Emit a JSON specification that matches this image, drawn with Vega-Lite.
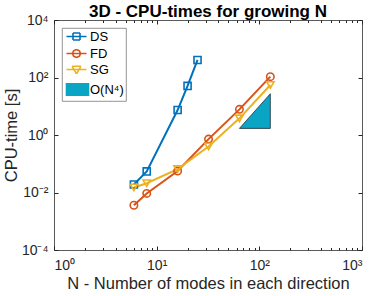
{
  "$schema": "https://vega.github.io/schema/vega-lite/v6.json",
  "autosize": "none",
  "width": 308,
  "height": 230,
  "padding": {"left": 54, "top": 20, "right": 12, "bottom": 46},
  "background": "white",
  "config": {
    "font": "Liberation Sans",
    "view": {"stroke": "#5a5a5a", "strokeWidth": 1},
    "axis": {"labelColor": "#262626", "titleColor": "#262626", "tickColor": "#262626", "labelFont": "Liberation Sans", "titleFont": "Liberation Sans", "grid": false, "domain": false},
    "legend": {"orient": "top-left", "offset": 8, "fillColor": "white", "strokeColor": "#7a7a7a", "strokeWidth": 0.8, "padding": 2, "labelFontSize": 13, "labelColor": "#000000", "symbolSize": 64, "labelOffset": 13, "rowPadding": 2, "symbolOpacity": 1, "symbolStrokeWidth": 1.6}
  },
  "title": {"text": "3D - CPU-times for growing N", "fontSize": 17, "fontWeight": "bold", "color": "#000000", "font": "Liberation Sans", "offset": -8},
  "datasets": {
    "series": [
      {"series": "DS", "N": 6, "t": 0.019},
      {"series": "DS", "N": 8, "t": 0.054},
      {"series": "DS", "N": 16, "t": 7.4},
      {"series": "DS", "N": 20, "t": 51},
      {"series": "DS", "N": 25, "t": 407},
      {"series": "FD", "N": 6, "t": 0.0036},
      {"series": "FD", "N": 8, "t": 0.0093},
      {"series": "FD", "N": 16, "t": 0.056},
      {"series": "FD", "N": 32, "t": 0.72},
      {"series": "FD", "N": 64, "t": 7.8},
      {"series": "FD", "N": 128, "t": 107},
      {"series": "SG", "N": 6, "t": 0.015},
      {"series": "SG", "N": 8, "t": 0.021},
      {"series": "SG", "N": 16, "t": 0.065},
      {"series": "SG", "N": 32, "t": 0.40},
      {"series": "SG", "N": 64, "t": 3.8},
      {"series": "SG", "N": 128, "t": 55}
    ],
    "tri": [
      {"series": "O(N⁴)", "N": 64, "t": 1.7, "base": 1.7},
      {"series": "O(N⁴)", "N": 128, "t": 27.2, "base": 1.7}
    ]
  },
  "layer": [
    {
      "data": {"name": "tri"},
      "mark": {"type": "area", "stroke": "#1c2c38", "strokeWidth": 0.8, "opacity": 1},
      "encoding": {
        "x": {"field": "N", "type": "quantitative", "scale": {"type": "log", "domain": [1, 1000], "nice": false},
          "axis": {"orient": "bottom", "values": [1, 10, 100, 1000], "labels": false, "ticks": true, "tickSize": -4, "title": null}},
        "y": {"field": "t", "type": "quantitative", "scale": {"type": "log", "domain": [0.0001, 10000], "nice": false},
          "axis": {"orient": "left", "values": [0.0001, 0.01, 1, 100, 10000], "labels": false, "ticks": true, "tickSize": -4, "title": null}},
        "y2": {"field": "base"},
        "color": {"field": "series", "type": "nominal",
          "scale": {"domain": ["DS", "FD", "SG", "O(N⁴)"], "range": ["#0072BD", "#D95319", "#EDB120", "#0AA5C5"]},
          "legend": {"title": null}}
      }
    },
    {
      "data": {"name": "series"},
      "mark": {"type": "line", "strokeWidth": 2},
      "encoding": {
        "x": {"field": "N", "type": "quantitative",
          "axis": {"orient": "bottom", "values": [1, 10, 100, 1000], "ticks": false, "labelFontSize": 14, "labelPadding": 8,
            "labelExpr": "datum.value===1 ? '10⁰' : datum.value===10 ? '10¹' : datum.value===100 ? '10²' : '10³'",
            "title": "N - Number of modes in each direction", "titleFontSize": 16.5, "titleFontWeight": "normal", "titlePadding": 3}},
        "y": {"field": "t", "type": "quantitative",
          "axis": {"orient": "left", "values": [0.0001, 0.01, 1, 100, 10000], "ticks": false, "labelFontSize": 14, "labelPadding": 6,
            "labelExpr": "datum.value<=0.0001001 ? '10⁻⁴' : datum.value<=0.01001 ? '10⁻²' : datum.value<=1.001 ? '10⁰' : datum.value<=100.1 ? '10²' : '10⁴'",
            "title": "CPU-time [s]", "titleFontSize": 16.5, "titleFontWeight": "normal", "titlePadding": 2}},
        "color": {"field": "series", "type": "nominal", "legend": {"title": null}},
        "detail": {"field": "series"}
      }
    },
    {
      "data": {"name": "series"},
      "transform": [{"filter": "datum.series === 'DS'"}],
      "mark": {"type": "point", "shape": "square", "filled": false, "strokeWidth": 1.6, "size": 50, "opacity": 1},
      "encoding": {
        "x": {"field": "N", "type": "quantitative",
          "axis": {"orient": "top", "values": [1, 10, 100, 1000], "labels": false, "ticks": true, "tickSize": -4, "title": null}},
        "y": {"field": "t", "type": "quantitative",
          "axis": {"orient": "right", "values": [0.0001, 0.01, 1, 100, 10000], "labels": false, "ticks": true, "tickSize": -4, "title": null}},
        "color": {"field": "series", "type": "nominal", "legend": {"title": null}}
      }
    },
    {
      "data": {"name": "series"},
      "transform": [{"filter": "datum.series === 'FD'"}],
      "mark": {"type": "point", "shape": "circle", "filled": false, "strokeWidth": 1.6, "size": 55, "opacity": 1},
      "encoding": {
        "x": {"field": "N", "type": "quantitative", "axis": null},
        "y": {"field": "t", "type": "quantitative", "axis": null},
        "color": {"field": "series", "type": "nominal", "legend": {"title": null}}
      }
    },
    {
      "data": {"name": "series"},
      "transform": [{"filter": "datum.series === 'SG'"}],
      "mark": {"type": "point", "shape": "triangle-down", "filled": false, "strokeWidth": 1.6, "size": 55, "opacity": 1},
      "encoding": {
        "x": {"field": "N", "type": "quantitative", "axis": null},
        "y": {"field": "t", "type": "quantitative", "axis": null},
        "color": {"field": "series", "type": "nominal", "legend": {"title": null}}
      }
    },
    {
      "data": {"name": "series"},
      "mark": {"type": "point", "opacity": 0},
      "encoding": {
        "x": {"field": "N", "type": "quantitative",
          "axis": {"orient": "bottom", "values": [2,3,4,5,6,7,8,9,20,30,40,50,60,70,80,90,200,300,400,500,600,700,800,900], "labels": false, "ticks": true, "tickSize": -2.5, "title": null}},
        "y": {"field": "t", "type": "quantitative", "axis": null},
        "shape": {"field": "series", "type": "nominal",
          "scale": {"domain": ["DS", "FD", "SG", "O(N⁴)"],
            "range": [
              "M-1,0H4M0.625,-0.875H2.375M2.375,-0.875V0.875M2.375,0.875H0.625M0.625,0.875V-0.875",
              "M-1,0H4M2.5,0L2.207,0.707M2.207,0.707L1.5,1M1.5,1L0.793,0.707M0.793,0.707L0.5,0M0.5,0L0.793,-0.707M0.793,-0.707L1.5,-1M1.5,-1L2.207,-0.707M2.207,-0.707L2.5,0",
              "M-1,0H4M0.4,-0.8L2.6,-0.8M2.6,-0.8L1.5,1.1M1.5,1.1L0.4,-0.8",
              "M-1,-1.4H4.5V1.4H-1Z"
            ]},
          "legend": {"title": null}}
      }
    },
    {
      "data": {"name": "series"},
      "mark": {"type": "point", "opacity": 0},
      "encoding": {
        "x": {"field": "N", "type": "quantitative",
          "axis": {"orient": "top", "values": [2,3,4,5,6,7,8,9,20,30,40,50,60,70,80,90,200,300,400,500,600,700,800,900], "labels": false, "ticks": true, "tickSize": -2.5, "title": null}},
        "y": {"field": "t", "type": "quantitative", "axis": null}
      }
    }
  ],
  "resolve": {"axis": {"x": "independent", "y": "independent"}}
}
